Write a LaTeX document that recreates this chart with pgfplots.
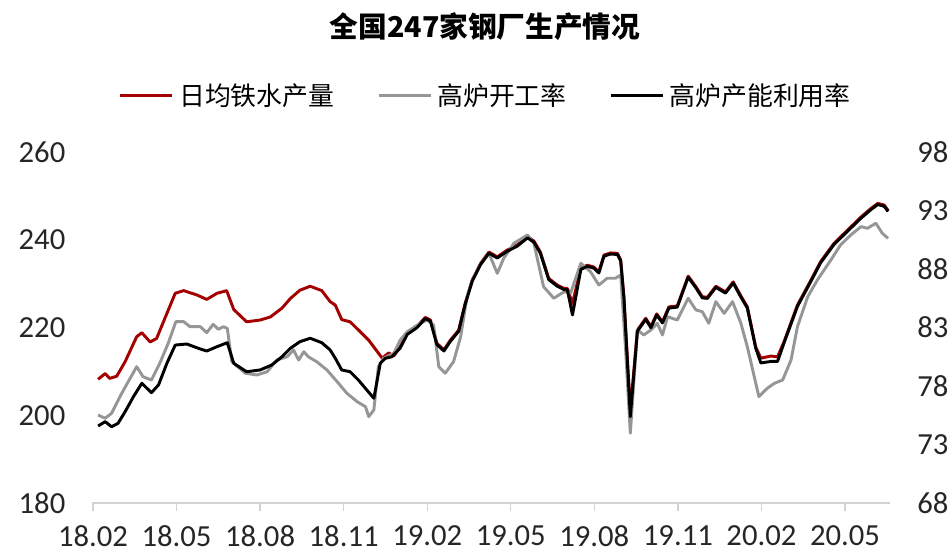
\documentclass[border=0pt]{standalone}
\usepackage{pgfplots}
\pgfplotsset{compat=1.18}
\usepackage{fontspec}
\setmainfont{Carlito}
\newfontfamily\cjk{Noto Sans CJK SC}
\definecolor{ironred}{RGB}{165,0,0}
\definecolor{rategray}{RGB}{150,150,150}
\definecolor{axisgray}{RGB}{210,210,210}

% x = week index from early Feb 2018
\pgfplotstableread{
x y
0.8 208.2
1.9 209.5
2.6 208.4
3.7 208.9
5.0 212.2
6.8 217.9
7.6 218.8
8.9 216.7
9.9 217.5
11.5 223.2
12.8 227.8
14.1 228.4
16.2 227.4
17.7 226.4
19.3 227.8
20.8 228.4
21.9 224.1
23.9 221.3
26.0 221.7
27.6 222.4
29.4 224.4
30.7 226.6
32.2 228.5
33.8 229.4
35.6 228.4
36.9 225.9
37.7 225.1
38.7 221.8
40.0 221.3
41.6 219.0
42.9 217.1
45.0 213.0
46.0 214.2
46.8 213.5
47.8 215.6
48.9 218.7
50.4 220.2
51.7 222.3
52.5 221.7
53.5 216.4
54.6 214.9
55.6 217.1
56.9 219.4
57.9 225.5
59.0 230.8
60.3 234.6
61.6 237.2
62.9 236.1
64.4 237.6
66.0 238.8
67.6 240.7
68.6 239.7
69.6 237.2
70.9 231.2
72.2 229.7
73.3 228.9
73.8 228.9
74.6 225.5
75.9 233.5
76.9 234.2
77.9 233.8
78.7 232.7
79.5 236.5
80.5 237.0
81.6 236.9
82.1 235.4
82.6 227.0
83.6 201.0
84.7 219.4
86.0 222.1
86.8 220.2
87.7 223.1
88.6 221.3
89.6 224.7
90.9 224.9
92.6 231.7
93.8 229.3
94.8 227.0
95.6 226.9
96.9 229.4
98.4 228.1
99.6 230.4
100.8 227.2
101.8 224.7
103.1 215.6
103.9 213.0
105.5 213.5
106.5 213.3
107.5 216.7
109.6 225.1
111.7 230.8
113.2 235.0
115.3 239.2
117.4 242.2
119.5 245.2
121.0 247.1
122.1 248.3
123.1 247.9
123.7 246.7
}\ironoutput

\pgfplotstableread{
x y
0.8 75.52
1.9 75.24
2.9 75.67
4.2 77.09
5.2 78.09
6.8 79.65
7.8 78.79
9.1 78.51
10.4 79.94
11.7 81.65
12.9 83.50
14.1 83.50
15.1 83.07
16.7 83.07
17.7 82.56
18.7 83.27
19.5 82.85
20.3 83.07
20.9 82.93
21.6 80.08
23.7 79.09
25.5 78.94
27.1 79.22
28.6 80.22
30.2 80.50
31.2 81.08
32.0 80.22
32.8 80.93
33.5 80.50
34.8 80.08
36.4 79.37
38.2 78.23
39.5 77.38
41.1 76.66
42.4 76.23
42.9 75.38
43.7 75.95
44.4 79.65
45.2 80.37
46.8 80.79
47.8 81.93
48.9 82.64
50.9 83.36
52.0 83.64
53.0 83.21
53.8 79.65
54.8 79.09
56.1 80.08
57.2 82.21
58.2 85.63
59.0 87.00
60.3 88.40
61.6 89.34
62.9 87.63
63.9 88.91
65.5 90.20
67.6 90.91
68.6 90.20
70.1 86.49
71.7 85.50
73.3 86.06
74.3 85.92
75.9 88.49
77.4 87.77
78.7 86.63
80.0 87.21
81.3 87.21
82.1 87.49
82.9 80.79
83.6 73.96
84.7 82.79
85.7 82.36
86.8 82.79
87.8 83.36
88.6 82.36
89.4 83.92
90.9 83.64
92.6 85.50
93.8 84.50
94.8 84.35
95.8 83.36
96.9 85.21
98.2 84.21
99.5 85.21
100.8 83.36
101.8 81.36
103.6 77.09
104.9 77.80
106.0 78.23
107.3 78.51
108.6 80.22
109.6 83.07
111.2 85.63
112.7 87.06
114.8 88.77
116.3 90.05
117.9 90.91
119.5 91.62
120.5 91.48
121.8 91.91
122.8 91.05
123.7 90.62
}\furnacerate

\pgfplotstableread{
x y
0.8 74.58
1.9 74.95
2.9 74.52
3.9 74.81
5.0 75.80
6.3 77.09
7.6 78.23
9.1 77.43
10.2 78.09
11.5 79.94
12.8 81.50
14.6 81.59
16.4 81.22
17.7 80.99
19.3 81.36
20.9 81.70
21.9 79.94
23.9 79.22
26.0 79.37
27.8 79.79
29.4 80.50
30.7 81.22
32.2 81.79
33.8 82.08
35.6 81.70
36.9 81.08
37.7 80.37
38.7 79.37
40.0 79.22
41.3 78.51
42.6 77.66
43.7 76.95
44.7 79.94
45.5 80.37
46.5 80.50
47.8 81.25
48.9 82.41
50.4 82.98
51.7 83.76
52.5 83.54
53.5 81.55
54.6 80.99
55.6 81.81
56.9 82.68
57.9 84.96
59.0 86.95
60.3 88.38
61.6 89.35
62.9 88.94
64.4 89.50
66.0 89.95
67.6 90.66
68.6 90.29
69.6 89.35
70.9 87.10
72.2 86.54
73.3 86.24
73.8 86.24
74.6 84.07
75.9 87.96
76.9 88.23
77.9 88.08
78.7 87.66
79.5 89.09
80.5 89.28
81.6 89.24
82.1 88.68
82.6 85.53
83.6 75.38
84.7 82.68
86.0 83.69
86.8 82.98
87.7 84.06
88.6 83.39
89.6 84.66
90.9 84.74
92.6 87.29
93.8 86.39
94.8 85.53
95.6 85.49
96.9 86.43
98.4 85.94
99.6 86.80
100.8 85.60
101.8 84.66
103.1 81.25
103.9 79.97
105.5 80.10
106.5 80.10
107.5 81.66
109.6 84.81
111.7 86.95
113.2 88.53
115.3 90.10
117.4 91.23
119.5 92.35
121.0 93.06
122.1 93.51
123.1 93.36
123.7 92.91
}\capacityrate

\pgfplotsset{
  base/.style={
    scale only axis,
    width=598.5pt, height=263.25pt,
    xmin=-0.15, xmax=124,
    /pgf/number format/assume math mode=true,
    tick label style={font=\fontsize{23}{23}\selectfont, black!85},
    ytick style={draw=none},
    y axis line style={draw=none},
  },
}

\begin{document}
\begin{tikzpicture}
\path[use as bounding box] (-69pt,-39pt) rectangle (645pt,377.25pt);

\begin{axis}[
  base,
  ymin=180, ymax=260, ytick={180,200,...,260},
  axis x line*=bottom, axis y line*=left,
  x axis line style={axisgray, line width=1pt},
  xtick={0,13,...,117},
  xticklabels={18.02,18.05,18.08,18.11,19.02,19.05,19.08,19.11,20.02,20.05},
  xtick style={axisgray, line width=1pt},
  tick align=outside, major tick length=6pt,
  xticklabel style={yshift=-7.5pt},
  yticklabel style={xshift=-10.5pt},
  title={\cjk\bfseries 全国247家钢厂生产情况},
  title style={at={(axis description cs:0.4925,1.335)}, anchor=center,
    font=\fontsize{21.5}{21.5}\selectfont},
]
\addplot[ironred, line width=2.2pt, line join=round] table {\ironoutput};
\end{axis}

\begin{axis}[
  base,
  ymin=68, ymax=98, ytick={68,73,...,98},
  axis x line=none, axis y line*=right,
  yticklabel style={xshift=17pt},
  legend columns=3,
  legend style={draw=none, fill=none, inner sep=0pt,
    at={(axis description cs:0.0335,1.162)}, anchor=west,
    font=\cjk\fontsize{19.4}{19.4}\selectfont,
    /tikz/every odd column/.append style={column sep=2pt},
    /tikz/every even column/.append style={column sep=30pt}},
  legend image code/.code={\draw[#1, line width=2.2pt] (0pt,0pt) -- (39pt,0pt);},
]
\addlegendimage{ironred}
\addlegendentry{日均铁水产量}
\addplot[rategray, line width=2.2pt, line join=round] table {\furnacerate};
\addlegendentry{高炉开工率}
\addplot[black, line width=2.2pt, line join=round] table {\capacityrate};
\addlegendentry{高炉产能利用率}
\end{axis}
\end{tikzpicture}
\end{document}
